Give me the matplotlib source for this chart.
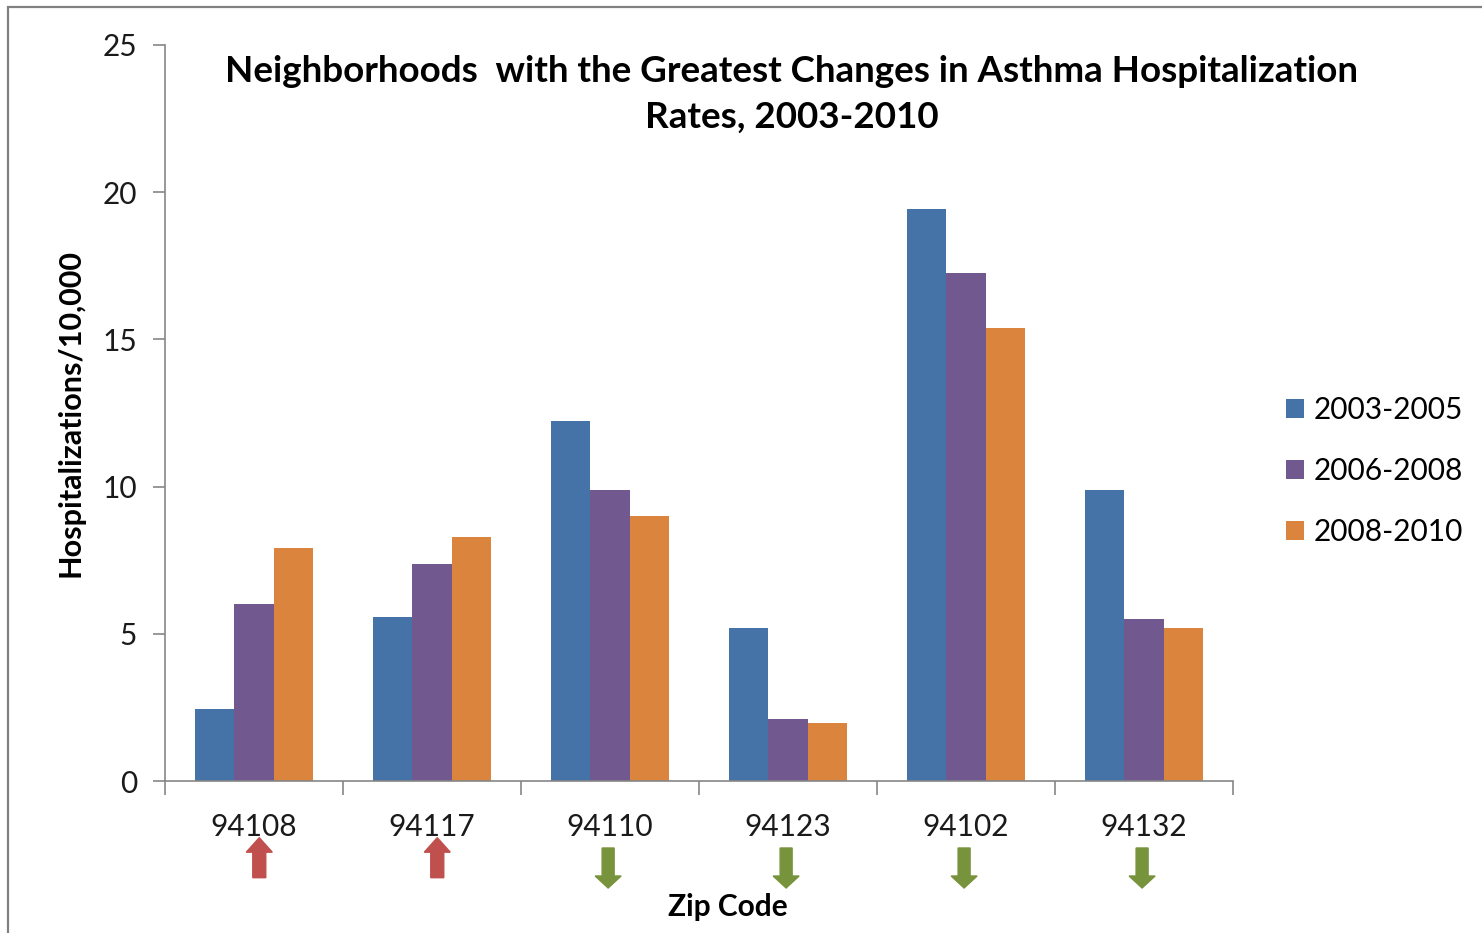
import matplotlib.pyplot as plt
from matplotlib.patches import Polygon, Rectangle
from matplotlib.transforms import ScaledTranslation
import numpy as np

plt.rcParams['font.family'] = ['Lato', 'DejaVu Sans']

# Asthma hospitalization rates per 10,000 by zip code
zip_codes = ['94108', '94117', '94110', '94123', '94102', '94132']
periods = ['2003-2005', '2006-2008', '2008-2010']
rate_03_05 = [2.45, 5.57, 12.23, 5.2, 19.43, 9.88]
rate_06_08 = [6.0, 7.37, 9.88, 2.1, 17.26, 5.5]
rate_08_10 = [7.91, 8.29, 9.0, 1.97, 15.39, 5.2]
trend = ['up', 'up', 'down', 'down', 'down', 'down']

colors = ['#4572A7', '#71588F', '#DB843D']
axis_gray = '#868686'

fig = plt.figure(figsize=(14.82, 9.33), dpi=100)
ax = fig.add_axes([0.1113, 0.1629, 0.7206, 0.7889])

x = np.arange(len(zip_codes))
w = 0.222
for i, (vals, c, lab) in enumerate(zip([rate_03_05, rate_06_08, rate_08_10], colors, periods)):
    ax.bar(x + (i - 1) * w, vals, width=w, color=c, label=lab)

ax.set_xlim(-0.5, len(zip_codes) - 0.5)
ax.set_ylim(0, 25)
ax.set_yticks([0, 5, 10, 15, 20, 25])
ax.set_xticks(x)
ax.set_xticklabels(zip_codes)
ax.set_xticks(np.arange(-0.5, len(zip_codes)), minor=True)
ax.tick_params(axis='x', which='major', length=0, pad=23, labelsize=21.5, colors='#1a1a1a')
ax.tick_params(axis='x', which='minor', length=10, width=1.2, color=axis_gray, direction='out')
ax.tick_params(axis='y', length=9, width=1.2, color=axis_gray, labelsize=21.5, pad=11, labelcolor='#1a1a1a')
for s in ['top', 'right']:
    ax.spines[s].set_visible(False)
for s in ['left', 'bottom']:
    ax.spines[s].set_color(axis_gray)
    ax.spines[s].set_linewidth(1.2)

# trend arrows under each zip code, sized in inches
up_shape = [(0, 0), (0.13, -0.145), (0.065, -0.145), (0.065, -0.40),
            (-0.065, -0.40), (-0.065, -0.145), (-0.13, -0.145)]
down_shape = [(0.06, 0), (0.06, -0.28), (0.13, -0.28), (0, -0.40),
              (-0.13, -0.28), (-0.06, -0.28), (-0.06, 0)]
for xi, t in zip(x, trend):
    if t == 'up':
        shape, col, y0, dx = up_shape, '#C0504D', -0.077, 0.03
    else:
        shape, col, y0, dx = down_shape, '#77933C', -0.091, -0.01
    tr = fig.dpi_scale_trans + ScaledTranslation(xi + dx, y0, ax.get_xaxis_transform())
    ax.add_patch(Polygon(shape, closed=True, transform=tr, color=col, clip_on=False))

leg = ax.legend(loc='center left', bbox_to_anchor=(1.025, 0.421), frameon=False,
                fontsize=21.5, handlelength=0.6, handleheight=0.6, handletextpad=0.3,
                labelspacing=1.1)

fig.text(0.534, 0.899, 'Neighborhoods  with the Greatest Changes in Asthma Hospitalization\nRates, 2003-2010',
         ha='center', va='center', fontsize=26.5, fontweight='bold', linespacing=1.45)
ax.set_ylabel('Hospitalizations/10,000', fontsize=22, fontweight='bold')
ax.yaxis.set_label_coords(-0.075, 0.5)
fig.text(0.491, 0.028, 'Zip Code', ha='center', va='center', fontsize=21.5, fontweight='bold')

# outer chart border
fig.add_artist(Rectangle((8 / 1482, -0.1), 1.2, 1 - 7 / 933 + 0.1, transform=fig.transFigure,
                         fill=False, edgecolor='#808080', linewidth=1.6))

fig.savefig('out.png', dpi=100)
